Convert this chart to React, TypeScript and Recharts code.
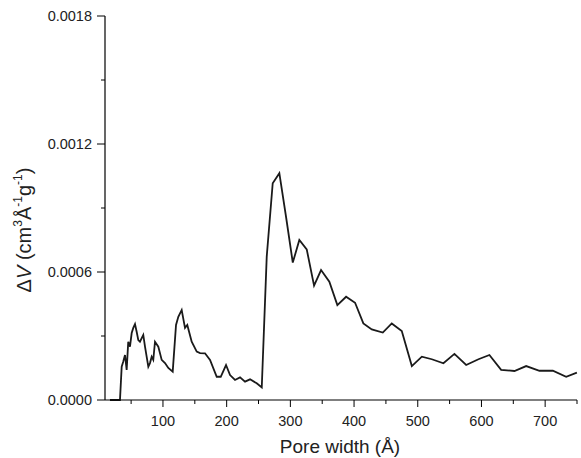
import React from "react";
import { LineChart, Line, XAxis, YAxis } from "recharts";

const poreWidth = [16.8, 32.5, 35.2, 37.7, 40.4, 43.0, 45.5, 48.2, 50.9, 53.4, 56.1, 58.7, 61.3, 63.9, 69.1, 71.8, 77.0, 79.6, 82.3, 84.8, 87.5, 92.7, 98.0, 103.2, 108.4, 115.3, 120.5, 124.1, 129.4, 134.6, 138.2, 145.1, 153.0, 158.2, 166.0, 173.9, 184.4, 190.7, 199.0, 205.3, 213.1, 221.0, 228.8, 236.7, 247.2, 255.1, 262.9, 272.3, 282.7, 293.2, 303.8, 314.1, 325.7, 337.2, 348.2, 361.2, 373.8, 387.5, 401.6, 414.6, 427.8, 445.1, 459.2, 474.9, 490.7, 506.4, 522.1, 540.3, 557.6, 576.0, 595.3, 612.5, 630.9, 651.8, 670.2, 691.1, 712.1, 733.0, 749.8];
const deltaV = [0, 0, 0.000156, 0.00018, 0.000211, 0.000141, 0.000273, 0.00025, 0.000314, 0.000338, 0.000356, 0.00032, 0.000281, 0.000273, 0.000305, 0.00025, 0.000156, 0.000173, 0.000203, 0.000188, 0.000273, 0.00025, 0.000188, 0.000173, 0.00015, 0.000133, 0.000352, 0.00039, 0.000422, 0.000338, 0.000352, 0.000273, 0.000227, 0.00022, 0.000219, 0.000188, 0.000109, 0.000109, 0.000164, 0.000117, 0.0000938, 0.000106, 0.0000859, 0.0000969, 0.0000781, 0.0000586, 0.000672, 0.001016, 0.001063, 0.000859, 0.000644, 0.00075, 0.000706, 0.000536, 0.000609, 0.000555, 0.000445, 0.000484, 0.000456, 0.000359, 0.000331, 0.000316, 0.000359, 0.000323, 0.000159, 0.000203, 0.000191, 0.000172, 0.000216, 0.000164, 0.000191, 0.000211, 0.000141, 0.000136, 0.000159, 0.000137, 0.000137, 0.000109, 0.000128];

const xTicks = [50, 100, 150, 200, 250, 300, 350, 400, 450, 500, 550, 600, 650, 700, 750];
const xLabeled = [100, 200, 300, 400, 500, 600, 700];
const yTicks = [0, 0.0003, 0.0006, 0.0009, 0.0012, 0.0015, 0.0018];
const yLabeled = [0, 0.0006, 0.0012, 0.0018];

const data = poreWidth.map((x, i) => ({ x, v: deltaV[i] }));
const FONT = "'Liberation Sans', Arial, sans-serif";

const XTick = (props: any) => {
  const { x, y, payload } = props;
  const major = xLabeled.includes(payload.value);
  return (
    <g>
      <line x1={x} x2={x} y1={y - 8} y2={y - 8 + (major ? 7 : 4)} stroke="#000" strokeWidth={1} />
      {major && (
        <text x={x} y={y + 18} textAnchor="middle" fontFamily={FONT} fontSize={14.5} fill="#222">
          {payload.value}
        </text>
      )}
    </g>
  );
};

const YTick = (props: any) => {
  const { x, y, payload } = props;
  const v = payload.value;
  const major = yLabeled.some((t) => Math.abs(t - v) < 1e-9);
  return (
    <g>
      <line x1={x + 8} x2={x + 8 - (major ? 8 : 4)} y1={y} y2={y} stroke="#000" strokeWidth={1} />
      {major && (
        <text x={x - 5} y={y + 5} textAnchor="end" fontFamily={FONT} fontSize={14.5} fill="#222">
          {v.toFixed(4)}
        </text>
      )}
    </g>
  );
};

export default function App() {
  return (
    <div style={{ position: "absolute", left: 0, top: 0, width: 581, height: 458, background: "#fff" }}>
      <LineChart width={581} height={458} data={data} margin={{ top: 16, right: 4, bottom: 0, left: 0 }}>
        <XAxis
          dataKey="x"
          type="number"
          domain={[9, 750]}
          ticks={xTicks}
          interval={0}
          tick={<XTick />}
          tickLine={false}
          axisLine={{ stroke: "#000", strokeWidth: 1.2 }}
          height={58}
        />
        <YAxis
          type="number"
          domain={[0, 0.0018]}
          ticks={yTicks}
          interval={0}
          tick={<YTick />}
          tickLine={false}
          axisLine={{ stroke: "#000", strokeWidth: 1.2 }}
          width={105}
        />
        <Line
          dataKey="v"
          type="linear"
          stroke="#1a1a1a"
          strokeWidth={1.8}
          dot={false}
          isAnimationActive={false}
        />
        <text x={340} y={453} textAnchor="middle" fontFamily={FONT} fontSize={19} fill="#222">
          Pore width (Å)
        </text>
        <text
          transform="translate(31,230) rotate(-90)"
          textAnchor="middle"
          fontFamily={FONT}
          fontSize={20}
          fill="#222"
        >
          <tspan>Δ</tspan>
          <tspan fontStyle="italic">V</tspan>
          <tspan> (cm</tspan>
          <tspan fontSize={12} dy={-9}>3</tspan>
          <tspan dy={9}>Å</tspan>
          <tspan fontSize={12} dy={-9}>-1</tspan>
          <tspan dy={9}>g</tspan>
          <tspan fontSize={12} dy={-9}>-1</tspan>
          <tspan dy={9}>)</tspan>
        </text>
      </LineChart>
    </div>
  );
}
